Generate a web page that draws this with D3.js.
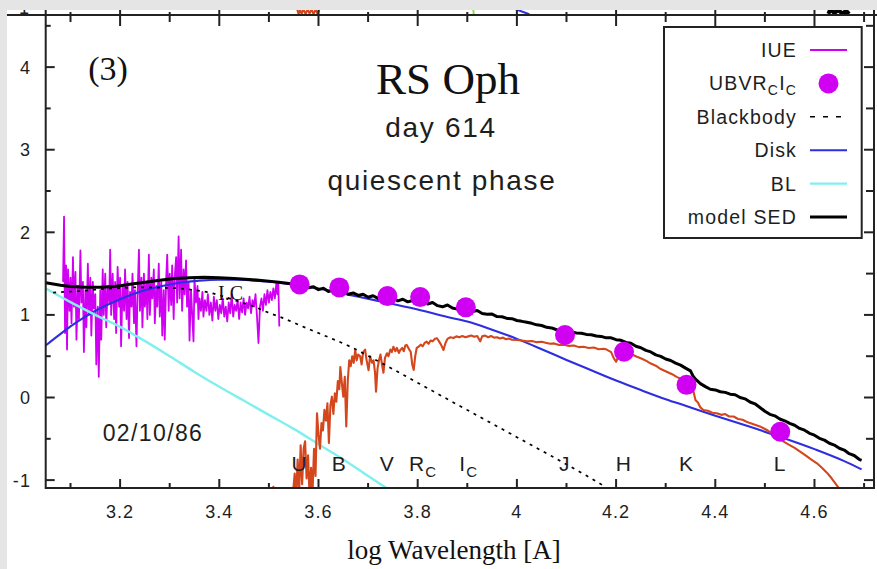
<!DOCTYPE html>
<html>
<head>
<meta charset="utf-8">
<script src="https://cdn.jsdelivr.net/npm/d3@7"></script>
<style>
  html, body { margin: 0; padding: 0; background: #fff; }
  svg { display: block; }
  .sans { font-family: "Liberation Sans", Arial, sans-serif; letter-spacing: 0.06em; fill: #1e1e1e; }
  .serif { font-family: "Liberation Serif", "Times New Roman", serif; fill: #111; }
</style>
</head>
<body>
<svg id="chart" width="877" height="569"></svg>
<script>
// ---------- axis ticks ----------
const xMajorTicks = [3.2, 3.4, 3.6, 3.8, 4.0, 4.2, 4.4, 4.6];
const xTickLabels = ["3.2", "3.4", "3.6", "3.8", "4", "4.2", "4.4", "4.6"];
const xMinorTicks = [3.1, 3.3, 3.5, 3.7, 3.9, 4.1, 4.3, 4.5, 4.7];
const yMajorTicks = [-1, 0, 1, 2, 3, 4];
const yTickLabels = ["-1", "0", "1", "2", "3", "4"];
const yMinorTicks = [-0.5, 0.5, 1.5, 2.5, 3.5, 4.5];

// ---------- photometry (UBVRcIc + JHKL) ----------
const bandNames = ["U", "B", "V", "R", "I", "J", "H", "K", "L"];
const bandSubs  = ["", "", "", "C", "C", "", "", "", ""];
const bandLogLambda = [3.562, 3.642, 3.739, 3.805, 3.897, 4.097, 4.216, 4.342, 4.531];
const bandFlux      = [1.369, 1.333, 1.228, 1.216, 1.092, 0.757, 0.554, 0.153, -0.414];

// ---------- IUE ultraviolet spectrum ----------
const iueSpectrum = [
  [3.085,1.40],[3.087,2.19],[3.089,0.78],[3.091,1.60],[3.093,0.58],[3.095,1.55],[3.098,1.05],[3.100,1.45],
  [3.102,0.90],[3.105,1.70],[3.107,1.10],[3.110,1.52],[3.112,0.70],[3.115,1.35],[3.117,0.95],[3.120,1.78],
  [3.122,1.15],[3.125,1.40],[3.127,0.55],[3.130,1.30],[3.132,0.85],[3.135,1.62],[3.137,1.00],[3.140,1.45],
  [3.142,0.75],[3.145,1.40],[3.147,1.08],[3.150,1.25],[3.152,0.40],[3.155,1.10],[3.157,0.25],[3.160,1.30],
  [3.162,0.70],[3.165,1.55],[3.167,1.00],[3.170,1.50],[3.172,0.85],[3.175,1.35],[3.178,1.15],[3.180,1.79],
  [3.182,1.00],[3.185,1.50],[3.188,0.95],[3.190,1.40],[3.192,0.78],[3.195,1.58],[3.198,1.10],[3.200,1.45],
  [3.202,0.62],[3.205,1.35],[3.208,1.05],[3.210,1.55],[3.213,0.95],[3.215,1.40],[3.218,0.72],[3.220,1.28],
  [3.223,1.10],[3.225,1.50],[3.228,0.90],[3.230,1.30],[3.233,0.62],[3.235,1.20],[3.238,1.79],[3.240,1.05],
  [3.243,1.45],[3.245,0.85],[3.248,1.50],[3.250,1.10],[3.253,1.40],[3.255,0.95],[3.258,1.73],[3.260,1.00],
  [3.263,1.45],[3.265,1.20],[3.268,1.55],[3.270,0.90],[3.273,1.35],[3.275,1.10],[3.278,1.62],[3.280,0.98],
  [3.283,1.40],[3.285,0.75],[3.288,1.30],[3.290,0.70],[3.293,1.45],[3.295,1.73],[3.298,1.05],[3.300,1.50],
  [3.303,1.12],[3.305,1.60],[3.308,0.95],[3.310,1.45],[3.313,1.70],[3.315,1.15],[3.318,1.95],[3.320,1.20],
  [3.323,1.79],[3.325,1.05],[3.328,1.55],[3.330,1.25],[3.333,1.66],[3.335,1.10],[3.338,1.40],[3.340,0.69],
  [3.343,1.30],[3.345,1.05],[3.348,0.68],[3.350,1.44],[3.353,1.15],[3.356,1.35],[3.358,0.95],[3.360,1.20],
  [3.363,1.05],[3.366,1.28],[3.368,0.98],[3.371,1.18],[3.374,1.05],[3.377,1.25],[3.380,1.00],[3.383,1.15],
  [3.386,0.93],[3.389,1.22],[3.392,1.05],[3.395,1.18],[3.398,0.95],[3.401,1.12],[3.404,1.02],[3.407,1.20],
  [3.410,0.98],[3.413,1.10],[3.416,0.92],[3.419,1.15],[3.422,1.02],[3.425,1.25],[3.428,0.98],[3.431,1.12],
  [3.434,1.05],[3.437,1.18],[3.440,0.95],[3.443,1.15],[3.446,1.03],[3.449,1.20],[3.452,1.00],[3.455,1.15],
  [3.458,1.08],[3.461,1.22],[3.464,1.02],[3.467,1.18],[3.470,1.10],[3.473,1.25],[3.476,0.98],[3.479,0.66],
  [3.482,1.10],[3.485,1.20],[3.488,1.05],[3.491,1.25],[3.494,1.12],[3.497,1.30],[3.500,1.15],[3.503,1.28],
  [3.506,1.18],[3.509,1.32],[3.512,1.20],[3.515,1.38],[3.517,1.25],[3.519,1.38],[3.521,0.86]
];

// ---------- model components ----------
const blackbodyCurve = [
  [3.065,1.27],[3.09,1.28],[3.11,1.285],[3.14,1.30],[3.17,1.315],[3.20,1.325],[3.24,1.334],[3.28,1.33],
  [3.32,1.32],[3.35,1.30],[3.38,1.27],[3.41,1.22],[3.44,1.16],[3.47,1.10],[3.50,1.025],[3.529,0.96],
  [3.56,0.88],[3.60,0.78],[3.664,0.615],[3.731,0.405],[3.798,0.185],[3.866,-0.04],[3.933,-0.26],
  [4.0,-0.48],[4.067,-0.70],[4.134,-0.925],[4.16,-1.015],[4.18,-1.09]
];

const diskCurve = [
  [3.05,0.63],[3.08,0.77],[3.10,0.86],[3.13,0.98],[3.16,1.08],[3.20,1.19],[3.24,1.28],[3.28,1.345],
  [3.32,1.39],[3.36,1.415],[3.40,1.425],[3.44,1.425],[3.48,1.41],[3.52,1.39],[3.56,1.36],[3.60,1.32],
  [3.66,1.245],[3.72,1.17],[3.80,1.065],[3.86,0.975],[3.90,0.92],[3.95,0.82],[4.00,0.71],[4.05,0.585],
  [4.10,0.455],[4.15,0.33],[4.20,0.205],[4.25,0.09],[4.30,-0.02],[4.34,-0.10],[4.40,-0.22],[4.47,-0.355],
  [4.53,-0.475],[4.60,-0.625],[4.66,-0.77],[4.695,-0.87]
];

const boundaryLayerCurve = [
  [3.05,1.32],[3.10,1.155],[3.157,0.98],[3.20,0.855],[3.234,0.74],[3.30,0.50],[3.35,0.31],[3.40,0.13],
  [3.45,-0.04],[3.50,-0.21],[3.55,-0.38],[3.60,-0.565],[3.65,-0.75],[3.70,-0.95],[3.733,-1.08],[3.76,-1.19]
];

// red giant template spectrum
const giantSpectrum = [
  [3.505,-1.2],[3.509,-1.08],[3.513,-1.2],
  [3.548,-1.2],[3.552,-0.92],[3.555,-1.2],[3.558,-0.75],[3.561,-1.15],[3.564,-0.58],[3.567,-1.05],[3.570,-0.62],
  [3.573,-0.53],[3.576,-0.98],[3.579,-0.70],[3.582,-1.2],[3.585,-0.85],[3.588,-1.15],[3.591,-0.62],[3.594,-0.95],
  [3.597,-0.19],[3.600,-0.45],[3.603,-0.62],[3.606,-0.31],[3.609,-0.40],[3.612,-0.15],[3.615,-0.28],[3.618,-0.07],
  [3.621,-0.55],[3.624,-0.10],[3.627,0.01],[3.630,-0.20],[3.633,0.05],[3.636,-0.05],[3.639,0.20],[3.642,0.10],
  [3.644,0.37],[3.647,0.18],[3.650,0.01],[3.653,0.25],[3.656,-0.35],[3.659,0.20],[3.662,0.45],[3.665,0.38],
  [3.668,0.50],[3.671,0.42],[3.674,0.575],[3.677,0.45],[3.680,0.52],[3.684,0.50],[3.687,0.40],[3.690,0.55],
  [3.694,0.58],[3.697,0.45],[3.701,0.33],[3.704,0.50],[3.708,0.42],[3.711,0.45],[3.714,0.30],[3.716,0.07],
  [3.719,0.35],[3.722,0.45],[3.725,0.52],[3.728,0.40],[3.731,0.30],[3.734,0.48],[3.738,0.535],[3.741,0.50],
  [3.745,0.58],[3.748,0.55],[3.751,0.615],[3.755,0.56],[3.758,0.60],[3.762,0.54],[3.765,0.575],[3.769,0.60],
  [3.772,0.56],[3.775,0.63],[3.778,0.636],[3.782,0.59],[3.786,0.55],[3.789,0.40],[3.792,0.333],[3.795,0.50],
  [3.798,0.60],[3.802,0.615],[3.806,0.64],[3.810,0.62],[3.814,0.66],[3.818,0.676],[3.822,0.65],[3.826,0.69],
  [3.830,0.68],[3.835,0.71],[3.839,0.717],[3.843,0.68],[3.847,0.64],[3.852,0.575],[3.856,0.66],[3.860,0.71],
  [3.866,0.729],[3.872,0.72],[3.878,0.74],[3.884,0.73],[3.890,0.745],[3.896,0.73],[3.902,0.74],[3.908,0.75],
  [3.914,0.735],[3.920,0.745],[3.926,0.68],[3.930,0.74],[3.936,0.75],[3.942,0.73],[3.948,0.745],[3.954,0.725],
  [3.960,0.73],[3.966,0.715],[3.972,0.725],[3.978,0.705],[3.984,0.715],[3.990,0.70],[4.000,0.696],[4.010,0.69],
  [4.020,0.68],[4.030,0.685],[4.040,0.67],[4.050,0.675],[4.060,0.66],[4.067,0.65],[4.075,0.655],[4.085,0.635],
  [4.095,0.64],[4.105,0.625],[4.115,0.63],[4.125,0.61],[4.134,0.615],[4.145,0.60],[4.155,0.605],[4.165,0.585],
  [4.175,0.59],[4.181,0.58],[4.190,0.55],[4.195,0.48],[4.200,0.433],[4.205,0.50],[4.212,0.54],[4.222,0.555],
  [4.232,0.52],[4.242,0.494],[4.252,0.47],[4.262,0.44],[4.269,0.414],[4.280,0.385],[4.290,0.345],[4.302,0.312],
  [4.312,0.285],[4.322,0.25],[4.336,0.212],[4.345,0.17],[4.353,0.131],[4.357,0.05],[4.360,-0.03],[4.365,-0.06],
  [4.370,-0.12],[4.376,-0.151],[4.385,-0.16],[4.394,-0.185],[4.403,-0.19],[4.412,-0.21],[4.420,-0.20],[4.428,-0.23],
  [4.437,-0.23],[4.446,-0.26],[4.455,-0.27],[4.462,-0.29],[4.470,-0.31],[4.480,-0.33],[4.490,-0.35],[4.504,-0.393],
  [4.515,-0.44],[4.525,-0.48],[4.538,-0.535],[4.548,-0.57],[4.560,-0.61],[4.571,-0.656],[4.582,-0.70],[4.593,-0.75],
  [4.605,-0.797],[4.615,-0.85],[4.625,-0.91],[4.632,-0.959],[4.642,-1.04],[4.652,-1.12]
];

// total model SED (hot component + giant)
const modelSED = [
  [3.05,1.39],[3.08,1.36],[3.10,1.345],[3.13,1.335],[3.16,1.335],[3.19,1.345],[3.22,1.37],[3.25,1.395],
  [3.28,1.42],[3.31,1.44],[3.34,1.45],[3.37,1.455],[3.40,1.45],[3.43,1.44],[3.46,1.43],[3.49,1.415],
  [3.52,1.395],[3.545,1.378],
  [3.55,1.372],[3.56,1.352],[3.57,1.366],[3.58,1.328],[3.59,1.340],[3.60,1.306],[3.61,1.322],[3.62,1.284],
  [3.63,1.300],[3.64,1.268],[3.65,1.284],[3.66,1.250],[3.67,1.266],[3.68,1.236],[3.69,1.250],[3.70,1.214],
  [3.71,1.232],[3.72,1.200],[3.73,1.218],[3.74,1.184],[3.75,1.204],[3.76,1.170],[3.77,1.190],[3.78,1.158],
  [3.79,1.174],[3.80,1.140],[3.81,1.162],[3.82,1.132],[3.83,1.150],[3.84,1.112],[3.85,1.098],[3.86,1.120],
  [3.87,1.084],[3.88,1.070],[3.89,1.088],[3.90,1.052],[3.91,1.040],[3.92,1.054],[3.93,1.018],[3.94,1.008],
  [3.95,1.010],[3.96,0.980],[3.97,0.978],[3.98,0.958],[3.99,0.954],[4.00,0.932],[4.01,0.922],[4.02,0.910],
  [4.03,0.898],[4.04,0.880],[4.05,0.872],[4.06,0.850],[4.07,0.842],[4.08,0.820],[4.09,0.812],[4.10,0.796],
  [4.11,0.792],[4.12,0.780],[4.13,0.778],[4.14,0.764],[4.15,0.760],[4.16,0.744],[4.17,0.740],[4.18,0.722],
  [4.19,0.722],[4.20,0.700],[4.21,0.692],[4.22,0.666],[4.23,0.656],[4.24,0.620],[4.25,0.602],[4.26,0.570],
  [4.27,0.552],[4.28,0.516],[4.29,0.498],[4.30,0.466],[4.31,0.448],[4.32,0.416],[4.33,0.392],[4.34,0.356],
  [4.35,0.322],[4.355,0.262],[4.36,0.222],[4.37,0.168],[4.38,0.132],[4.39,0.100],[4.40,0.092],[4.41,0.070],
  [4.42,0.062],[4.43,0.040],[4.44,0.034],[4.45,0.000],[4.46,-0.016],[4.47,-0.054],[4.48,-0.076],[4.49,-0.120],
  [4.50,-0.166],[4.51,-0.204],[4.52,-0.222],[4.53,-0.260],[4.54,-0.282],[4.55,-0.314],[4.56,-0.336],[4.57,-0.374],
  [4.58,-0.396],[4.59,-0.434],[4.60,-0.456],[4.61,-0.494],[4.62,-0.516],[4.63,-0.554],[4.64,-0.576],[4.65,-0.614],
  [4.66,-0.636],[4.67,-0.680],[4.68,-0.702],[4.69,-0.748],[4.695,-0.760]
];

// curves of the neighbouring panel that reach across the shared top border
const upperGiant = [[3.557,4.70],[3.560,4.64],[3.563,4.70],[3.566,4.645],[3.570,4.70],[3.574,4.64],[3.578,4.70],
  [3.582,4.65],[3.586,4.70],[3.590,4.64],[3.594,4.70],[3.598,4.645],[3.602,4.70]];
const upperGreen = [[3.912,4.70],[3.913,4.64]];
const upperBlue = [[3.998,4.70],[4.025,4.64]];
const upperBlack = [[4.628,4.645],[4.632,4.70],[4.640,4.655],[4.648,4.69],[4.656,4.65],[4.664,4.68],[4.670,4.645]];

// ---------- legend ----------
const legendLabels = ["IUE", "UBVR|C|I|C", "Blackbody", "Disk", "BL", "model SED"];
const legendKinds  = ["line", "dot", "dash", "line", "line", "line"];

// ---------- styles ----------
const colIUE = "#d000f2", colDot = "#d000f2", colDisk = "#2e2ee0", colBL = "#80f0ee",
      colGiant = "#d4461c", colSED = "#000";
const legendColors = [colIUE, colDot, "#000", colDisk, colBL, colSED];
const legendWidths = [2, 0, 1.6, 2, 2.4, 3];

const svg = d3.select("#chart");
const W = 877, H = 569;
const plot = { left: 45.7, right: 874, top: 15, bottom: 488 };

const x = d3.scaleLinear().domain([3.05, 4.72]).range([plot.left, plot.right]);
const y = d3.scaleLinear().domain([-1.0956, 4.631]).range([plot.bottom, plot.top]);

// page background with the grey margin of the figure sheet
svg.append("rect").attr("width", W).attr("height", H).attr("fill", "#fff");
svg.append("rect").attr("width", W).attr("height", 10).attr("fill", "#e5e5e5");
svg.append("rect").attr("width", 7).attr("height", H).attr("fill", "#e5e5e5");

const defs = svg.append("defs");
defs.append("clipPath").attr("id", "plotClip").append("rect")
  .attr("x", plot.left).attr("y", plot.top)
  .attr("width", plot.right - plot.left).attr("height", plot.bottom - plot.top);
defs.append("clipPath").attr("id", "stripClip").append("rect")
  .attr("x", 7).attr("y", 10).attr("width", W).attr("height", plot.top - 10);

const line = d3.line().x(d => x(d[0])).y(d => y(d[1]));
const smooth = d3.line().curve(d3.curveMonotoneX).x(d => x(d[0])).y(d => y(d[1]));

// neighbouring-panel fragments
const strip = svg.append("g").attr("clip-path", "url(#stripClip)");
strip.append("path").attr("d", line(upperGiant)).attr("fill", "none").attr("stroke", colGiant).attr("stroke-width", 2);
strip.append("path").attr("d", line(upperGreen)).attr("fill", "none").attr("stroke", "#8ee04a").attr("stroke-width", 2);
strip.append("path").attr("d", line(upperBlue)).attr("fill", "none").attr("stroke", colDisk).attr("stroke-width", 2);
strip.append("path").attr("d", line(upperBlack)).attr("fill", "none").attr("stroke", "#000").attr("stroke-width", 4);
strip.append("text").attr("class", "sans").attr("x", 30).attr("y", 8).attr("dy", "0.35em")
  .attr("text-anchor", "end").attr("font-size", 18).text("-1");

// data layer
const g = svg.append("g").attr("clip-path", "url(#plotClip)");

g.append("path").attr("d", line(iueSpectrum)).attr("fill", "none")
  .attr("stroke", colIUE).attr("stroke-width", 1.8).attr("stroke-linejoin", "round");
g.append("path").attr("d", smooth(diskCurve))
  .attr("fill", "none").attr("stroke", colDisk).attr("stroke-width", 2.1);
g.append("path").attr("d", smooth(boundaryLayerCurve))
  .attr("fill", "none").attr("stroke", colBL).attr("stroke-width", 2.4);
g.append("path").attr("d", line(giantSpectrum)).attr("fill", "none")
  .attr("stroke", colGiant).attr("stroke-width", 2.1).attr("stroke-linejoin", "round");
g.append("path").attr("d", smooth(blackbodyCurve))
  .attr("fill", "none").attr("stroke", "#000").attr("stroke-width", 1.7).attr("stroke-dasharray", "3,5");
g.append("path").attr("d", line(modelSED)).attr("fill", "none")
  .attr("stroke", colSED).attr("stroke-width", 3).attr("stroke-linejoin", "round");

g.selectAll("circle.phot").data(bandLogLambda).join("circle")
  .attr("class", "phot")
  .attr("cx", d => x(d)).attr("cy", (d, i) => y(bandFlux[i]))
  .attr("r", 10).attr("fill", colDot);

// ---------- axes frame ----------
const axisColor = "#222";
const frame = svg.append("g").attr("stroke", axisColor).attr("stroke-width", 2).attr("fill", "none");
frame.append("line").attr("x1", plot.left).attr("x2", plot.right).attr("y1", plot.bottom).attr("y2", plot.bottom);
frame.append("line").attr("x1", 7).attr("x2", W).attr("y1", plot.top).attr("y2", plot.top);
frame.append("line").attr("x1", plot.left).attr("x2", plot.left).attr("y1", 10).attr("y2", plot.bottom + 1);
frame.append("line").attr("x1", plot.right).attr("x2", plot.right).attr("y1", 10).attr("y2", plot.bottom + 1);

// bottom and top ticks
xMajorTicks.forEach(v => {
  frame.append("line").attr("x1", x(v)).attr("x2", x(v)).attr("y1", plot.bottom).attr("y2", plot.bottom - 9);
  frame.append("line").attr("x1", x(v)).attr("x2", x(v)).attr("y1", 10).attr("y2", plot.top + 11);
});
xMinorTicks.forEach(v => {
  frame.append("line").attr("x1", x(v)).attr("x2", x(v)).attr("y1", plot.bottom).attr("y2", plot.bottom - 5);
  frame.append("line").attr("x1", x(v)).attr("x2", x(v)).attr("y1", 12).attr("y2", plot.top + 7);
});
// left and right ticks
yMajorTicks.forEach(v => {
  frame.append("line").attr("x1", plot.left).attr("x2", plot.left + 9).attr("y1", y(v)).attr("y2", y(v));
  frame.append("line").attr("x1", plot.right).attr("x2", plot.right - 10).attr("y1", y(v)).attr("y2", y(v));
});
yMinorTicks.forEach(v => {
  frame.append("line").attr("x1", plot.left).attr("x2", plot.left + 5).attr("y1", y(v)).attr("y2", y(v));
  frame.append("line").attr("x1", plot.right).attr("x2", plot.right - 8).attr("y1", y(v)).attr("y2", y(v));
});

// tick labels
svg.selectAll("text.xtl").data(xMajorTicks).join("text")
  .attr("class", "sans xtl").attr("x", d => x(d)).attr("y", 518)
  .attr("text-anchor", "middle").attr("font-size", 18).text((d, i) => xTickLabels[i]);
svg.selectAll("text.ytl").data(yMajorTicks).join("text")
  .attr("class", "sans ytl").attr("x", 31).attr("y", d => y(d)).attr("dy", "0.36em")
  .attr("text-anchor", "end").attr("font-size", 18).text((d, i) => yTickLabels[i]);

svg.append("text").attr("class", "serif").attr("x", 454).attr("y", 559)
  .attr("text-anchor", "middle").attr("font-size", 27).text("log Wavelength [A]");

// ---------- annotations ----------
svg.append("text").attr("class", "serif").attr("x", 108).attr("y", 80)
  .attr("text-anchor", "middle").attr("font-size", 34).text("(3)");
svg.append("text").attr("class", "serif").attr("x", 448).attr("y", 94)
  .attr("text-anchor", "middle").attr("font-size", 45).text("RS Oph");
svg.append("text").attr("class", "sans").attr("x", 441).attr("y", 137)
  .attr("text-anchor", "middle").attr("font-size", 28).text("day 614");
svg.append("text").attr("class", "sans").attr("x", 442).attr("y", 190)
  .attr("text-anchor", "middle").attr("font-size", 28).text("quiescent phase");
svg.append("text").attr("class", "sans").attr("x", 153).attr("y", 441)
  .attr("text-anchor", "middle").attr("font-size", 23).text("02/10/86");
svg.append("text").attr("class", "serif").attr("x", 218).attr("y", 300)
  .attr("font-size", 20).text("I.C");

// band labels
const bandText = svg.selectAll("text.band").data(bandNames).join("text")
  .attr("class", "sans band")
  .attr("x", (d, i) => x(bandLogLambda[i]) + (bandSubs[i] ? 3 : 0))
  .attr("y", 471).attr("text-anchor", "middle").attr("font-size", 21);
bandText.each(function(d, i) {
  const t = d3.select(this);
  t.append("tspan").text(d);
  if (bandSubs[i]) t.append("tspan").attr("dy", 6).attr("font-size", 15).text(bandSubs[i]);
});

// ---------- legend ----------
const leg = svg.append("g");
leg.append("rect").attr("x", 664).attr("y", 27).attr("width", 197.7).attr("height", 211)
  .attr("fill", "#fff").attr("stroke", axisColor).attr("stroke-width", 2);
legendLabels.forEach((lab, i) => {
  const cy = 50 + i * 33.4;
  const t = leg.append("text").attr("class", "sans").attr("x", 797).attr("y", cy).attr("dy", "0.36em")
    .attr("text-anchor", "end").attr("font-size", 19.5);
  const parts = lab.split("|");
  parts.forEach((p, k) => {
    const sp = t.append("tspan").text(p);
    if (k % 2 === 1) sp.attr("dy", 5).attr("font-size", 14);
    else if (k > 0) sp.attr("dy", -5);
  });
  const kind = legendKinds[i];
  if (kind === "dot") {
    leg.append("circle").attr("cx", 828.5).attr("cy", cy).attr("r", 10).attr("fill", legendColors[i]);
  } else {
    leg.append("line").attr("x1", 810).attr("x2", 847).attr("y1", cy).attr("y2", cy)
      .attr("stroke", legendColors[i]).attr("stroke-width", legendWidths[i])
      .attr("stroke-dasharray", kind === "dash" ? "5,8" : null);
  }
});
</script>
</body>
</html>
